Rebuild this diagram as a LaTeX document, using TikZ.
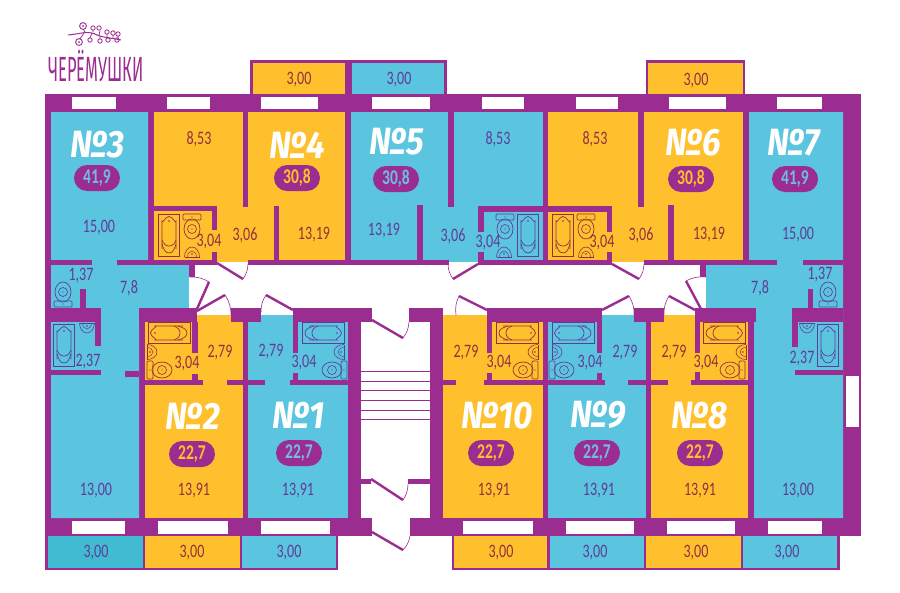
\documentclass[tikz,border=0pt]{standalone}
\usepackage{fontspec}
\setmainfont{Carlito}
\newfontfamily\areafont[FakeStretch=0.74]{Carlito}
\newfontfamily\numfont[FakeStretch=0.88]{Fira Sans}
\newfontfamily\logofont[FakeStretch=0.47]{Fira Sans}
\definecolor{aptblue}{HTML}{5BC4DE}
\definecolor{balcblue}{HTML}{40BBD2}
\definecolor{aptorange}{HTML}{FFC02E}
\definecolor{wall}{HTML}{9B2C90}
\definecolor{bluetext}{HTML}{5F3C9C}
\definecolor{orangetext}{HTML}{93303F}
\definecolor{pillblue}{HTML}{6FBDE6}
\tikzset{
    wallfill/.style={fill=wall},
    bluefill/.style={fill=aptblue},
    orangefill/.style={fill=aptorange},
    darkfill/.style={fill=balcblue},
    bluelabel/.style={text=bluetext,font=\areafont\fontsize{19}{19}\selectfont,inner sep=0pt},
    orangelabel/.style={text=orangetext,font=\areafont\fontsize{19}{19}\selectfont,inner sep=0pt},
    flatnumber/.style={text=white,font=\numfont\bfseries\itshape\fontsize{38}{38}\selectfont,inner sep=0pt},
    pillbase/.style={fill=wall,rounded corners=13pt,minimum width=46pt,minimum height=26pt,inner sep=0pt,font=\areafont\bfseries\fontsize{21}{21}\selectfont},
    leaf/.style={draw=wall,line width=2.4pt},
    swing/.style={draw=wall,line width=0.6pt},
    bathpic/.pic={
        \draw[line width=0.8pt] (-10.5,-21) rectangle (10.5,21);
        \draw[line width=0.7pt] (-7,14) -- (-7,-14) to[out=-90,in=180] (0,-18.5) to[out=0,in=-90] (7,-14) -- (7,14);
        \draw[line width=0.7pt] (-7,5) to[out=-70,in=180] (0,11) to[out=0,in=-110] (7,5);
        \draw[line width=0.7pt] (-7,9) to[out=-70,in=180] (0,18) to[out=0,in=-110] (7,9);
        \fill (0,-14) circle (0.9);
    },
    toiletpic/.pic={
        \draw[line width=0.7pt,rounded corners=1pt] (-9,-13) rectangle (9,-7);
        \draw[line width=0.7pt] (0,2) ellipse (8 and 10);
        \draw[line width=0.6pt] (0,2) circle (4.5);
        \fill (0,2) circle (0.7);
        \fill (0,-10) circle (0.7);
    },
    sinkpic/.pic={
        \draw[line width=0.6pt] (-7.5,0) arc (180:360:7.5 and 10);
        \draw[line width=0.6pt] (-7.5,0) -- (7.5,0);
        \draw[line width=0.5pt] (-4.5,0) arc (180:360:4.5 and 6);
        \fill (0,-3) circle (0.8);
    },
}
\begin{document}
\begin{tikzpicture}[x=1pt,y=-1pt]
    \useasboundingbox (0,0) rectangle (900,592);

    % balconies
    \foreach \a/\b/\c/\d in {250/60/346/96,346/60/447/96,646/60/745/96,
        45/534/145/570,143/534/242/570,240/534/338/570,
        452/534/549/570,547/534/646/570,644/534/743/570,741/534/840/570}
        \fill[wall] (\a,\b) rectangle (\c,\d);
    \foreach \a/\b/\c/\d/\f in {253/63/345/94/orangefill,352/63/444/94/bluefill,648/63/743/94/orangefill,
        48/536/143/568/darkfill,145/536/240/568/orangefill,242/536/336/568/bluefill,
        454/536/547/568/orangefill,550/536/644/568/bluefill,646/536/741/568/orangefill,743/536/837/568/bluefill}
        \fill[\f] (\a,\b) rectangle (\c,\d);

    % outer walls
    \fill[wallfill] (45,94) rectangle (861,536);

    % flats
    \fill[bluefill] (51,112) -- (148,112) -- (148,265) -- (189,265) -- (189,309) -- (139,309) -- (139,518) -- (51,518) -- cycle;
    \fill[bluefill] (749,112) -- (843,112) -- (843,518) -- (754,518) -- (754,309) -- (706,309) -- (706,265) -- (749,265) -- cycle;
    \foreach \a/\b/\c/\d/\f in {154/112/345/262/orangefill,351/112/543/262/bluefill,548/112/743/262/orangefill,
        145/315/243/518/orangefill,248/315/348/518/bluefill,
        443/315/543/518/orangefill,548/315/646/518/bluefill,651/315/748/518/orangefill}
        \fill[\f] (\a,\b) rectangle (\c,\d);

    % corridor, stairs
    \fill[white] (189,262) rectangle (706,315);
    \fill[white] (361,315) rectangle (430,518);
    \fill[white] (372,518) rectangle (410,536);
    \foreach \y in {371,381,390,400,410,419}
        \draw[wall,line width=0.5pt] (361,\y) -- (430,\y);

    % inner walls
    \foreach \a/\b/\c/\d in {
        51/260/92/265,117/260/217/265,248/260/449/265,478/260/612/265,644/260/777/265,803/260/843/265,
        243/112/248/207,274/206/279/262,148/206/217/211,212/206/217/230,212/252/217/265,
        448/112/454/207,417/205/423/262,478/206/612/212,478/206/484/232,478/252/484/265,607/206/612/232,607/252/612/265,
        638/112/644/207,668/205/674/262,543/112/548/207,
        189/265/195/277,700/265/706/277,
        80/289/86/308,51/308/101/322,95/322/101/346,51/370/101/375,125/371/139/377,
        808/289/813/308,792/308/843/322,792/322/798/347,795/370/843/375,
        139/308/197/322,231/308/261/322,293/308/372/322,409/308/443/322,487/308/602/322,634/308/664/322,695/308/756/322,
        145/380/203/385,227/380/265/385,290/380/348/385,443/380/456/385,484/380/605/385,628/380/668/385,691/380/748/385,
        192/322/198/353,192/374/198/380,293/322/298/353,293/373/298/380,
        487/322/492/353,487/373/492/380,597/322/602/353,597/373/602/380,695/322/700/353,695/372/700/380,
        361/479/371/484,408/479/430/484}
        \fill[wallfill] (\a,\b) rectangle (\c,\d);

    % windows
    \foreach \a/\c in {72/116,167/210,261/318,372/430,482/524,576/618,669/726,777/822}
        \fill[white] (\a,96.5) rectangle (\c,109);
    \foreach \a/\c in {72/125,158/228,261/330,463/533,566/634,667/735,768/822}
        \fill[white] (\a,521) rectangle (\c,534);
    \fill[white] (846,376) rectangle (859,427);

    % doors
    \foreach \p/\q/\r/\s/\t/\u/\b in {
        197/309/209/282/190/277/right,217/263/243/279/248/264/right,197/311/225/295/231/315/left,293/310/266/295/261/312/right,
        478/264/453/279/448/264/left,487/310/459/296/456/315/right,372/320/403/338/409/322/right,612/264/639/279/644/264/right,
        602/310/629/296/634/315/left,695/310/669/296/664/315/right,701/309/686/281/706/277/left,
        371/479/403/500/408/484/right,372/532/403/550/410/536/right}{
        \draw[leaf] (\p,\q) -- (\r,\s);
        \draw[swing] (\r,\s) to[bend \b=16] (\t,\u);
    }

    % baths, toilets, sinks
    \foreach \x/\y/\r/\c in {169/235/0/orangetext,64/345/0/bluetext,169/333/90/orangetext,323/333/-90/bluetext,
        528/235/0/bluetext,563/235/0/orangetext,517/333/-90/orangetext,573/333/90/bluetext,724/333/-90/orangetext,828/345/0/bluetext}
        \pic[rotate=\r,color=\c] at (\x,\y) {bathpic};
    \foreach \x/\y/\r/\c in {192/227/0/orangetext,505/227/0/bluetext,586/227/0/orangetext,63/294/180/bluetext,828/294/180/bluetext,
        160/370/90/orangetext,334/370/-90/bluetext,525/370/-90/orangetext,562/370/90/bluetext,732/370/-90/orangetext}
        \pic[rotate=\r,color=\c] at (\x,\y) {toiletpic};
    \foreach \x/\y/\r/\c in {192/257/0/orangetext,504/257/0/bluetext,586/257/0/orangetext,87/323/180/bluetext,807/323/180/bluetext,
        147/352/-90/orangetext,344/352/90/bluetext,538/352/90/orangetext,552/352/-90/bluetext,746/352/90/orangetext}
        \pic[rotate=\r,color=\c] at (\x,\y) {sinkpic};

    % flat numbers and areas
    \foreach \x/\y/\t [count=\i] in {98/145/3,297/145/4,397/142/5,693/143/6,794/143/7,193/416/2,299/415/1,497/416/10,598/415/9,700/416/8}
        \node[flatnumber] (num\i) at (\x,\y) {№\t};
    \foreach \x/\y/\t [count=\i] in {97/178/{41,9},795/179/{41,9},396/179/{30,8},299/453/{22,7},597/453/{22,7}}
        \node[pillbase,text=pillblue] (pillb\i) at (\x,\y) {\t};
    \foreach \x/\y/\t [count=\i] in {297/178/{30,8},691/179/{30,8},192/454/{22,7},491/453/{22,7},700/453/{22,7}}
        \node[pillbase,text=aptorange] (pillo\i) at (\x,\y) {\t};

    % room labels
    \foreach \x/\y/\t [count=\i] in {99/228/{15,00},81/276/{1,37},129/288/{7,8},88/362/{2,37},96/491/{13,00},
        271/352/{2,79},304/363/{3,04},298/491/{13,91},384/231/{13,19},453/236/{3,06},488/243/{3,04},498/139/{8,53},
        590/363/{3,04},625/353/{2,79},599/491/{13,91},798/235/{15,00},820/275/{1,37},760/288/{7,8},802/359/{2,37},798/491/{13,00},
        399/80/{3,00},96/553/{3,00},289/553/{3,00},595/553/{3,00},787/553/{3,00}}
        \node[bluelabel] (labb\i) at (\x,\y) {\t};
    \foreach \x/\y/\t [count=\i] in {199/139/{8,53},209/242/{3,04},245/235/{3,06},314/235/{13,19},
        220/353/{2,79},187/364/{3,04},194/491/{13,91},595/139/{8,53},602/243/{3,04},641/235/{3,06},709/235/{13,19},
        466/353/{2,79},499/363/{3,04},494/491/{13,91},674/353/{2,79},706/363/{3,04},700/491/{13,91},
        299/80/{3,00},696/81/{3,00},192/553/{3,00},501/553/{3,00},696/553/{3,00}}
        \node[orangelabel] (labo\i) at (\x,\y) {\t};

    % logo
    \node[text=wall,font=\logofont\fontsize{35}{35}\selectfont,inner sep=0pt] (logo) at (96,66) {ЧЕРЁМУШКИ};
    \draw[wall,line width=1pt] (68,35) .. controls (80,34) and (88,30) .. (97,35) .. controls (105,38) and (112,38) .. (121,40);
    \draw[wall,line width=0.8pt] (85,32) -- (83,29) (93,32) -- (93,30) (99,35) -- (100,31) (107,37) -- (107,34) (113,38) -- (113,35) (118,39) -- (118,36)
        (84,33) -- (80,39) (92,33) -- (90,38) (100,36) -- (100,39) (108,37) -- (108,38);
    \foreach \x/\y [count=\i] in {93/28,99/28,107/32,113/33,118/34,90/40,100/41,108/40,117/40}{
        \draw[wall,line width=0.8pt] (\x,\y) circle (2.2);
    }
    \foreach \x/\y [count=\i] in {83/26,79/42}{
        \draw[wall,line width=0.9pt] (\x,\y) circle (3.4);
        \fill[wall] (\x,\y) circle (1);
    }
\end{tikzpicture}
\end{document}
